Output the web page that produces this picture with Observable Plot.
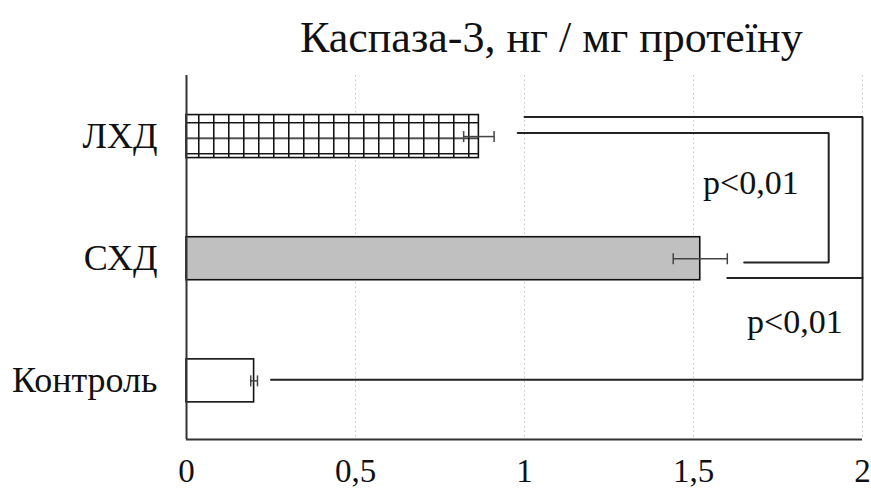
<!DOCTYPE html>
<html>
<head>
<meta charset="utf-8">
<script src="https://cdn.jsdelivr.net/npm/d3@7"></script>
<script src="https://cdn.jsdelivr.net/npm/@observablehq/plot@0.6"></script>
<style>
  body { margin: 0; background: #fff; }
  #chart { position: relative; width: 871px; height: 498px; font-family: "Liberation Serif", "DejaVu Serif", serif; color: #111; }
  #title { position: absolute; left: 300px; top: 16px; font-family: "Liberation Serif", "DejaVu Serif", serif; font-size: 44px; line-height: 1; white-space: nowrap; }
  #plot { position: absolute; left: 0; top: 75px; }
</style>
</head>
<body>
<div id="chart">
  <div id="title">Каспаза-3, нг / мг протеїну</div>
  <div id="plot"></div>
</div>
<script>
// Caspase-3 level per group (mean ± error), rows listed top to bottom
const groups = ["ЛХД", "СХД", "Контроль"];
const means = [0.865, 1.52, 0.20];
const errors = [0.045, 0.08, 0.01];

// Value axis ticks, written with a decimal comma
const xTicks = [0, 0.5, 1, 1.5, 2];
const xTickLabels = ["0", "0,5", "1", "1,5", "2"];

// Significance brackets: x in value units, y in row units (0 = first row)
const bracketIds = ["ЛХД–Контроль", "ЛХД–СХД", "СХД–Контроль"];
const bracketX = [[1.0, 2.0, 2.0, 0.25], [0.98, 1.90, 1.90, 1.65], [1.60, 2.0]];
const bracketY = [[-0.16, -0.16, 1.99, 1.99], [-0.03, -0.03, 1.03, 1.03], [1.157, 1.157]];

// p-value annotations
const pTexts = ["p<0,01", "p<0,01"];
const pX = [1.67, 1.80];
const pY = [0.38, 1.52];

const serif = "\"Liberation Serif\", \"DejaVu Serif\", serif";
const fills = { "ЛХД": "url(#grid-hatch)", "СХД": "#c0c0c0", "Контроль": "#ffffff" };

const rows = groups.map((g, i) => ({ group: g, row: i, mean: means[i], err: errors[i] }));
const bracketPoints = bracketIds.flatMap((id, k) =>
  bracketX[k].map((x, j) => ({ id, x, y: bracketY[k][j] })));
const pLabels = pTexts.map((t, i) => ({ text: t, x: pX[i], y: pY[i] }));

const half = 0.176;   // half bar thickness, row units
const cap = 0.045;    // half error-cap height, row units
const yDomain = [2.48, -0.5];

const caps = rows.flatMap(d => [d.mean - d.err, d.mean + d.err].map(x => ({ x, row: d.row })));

const svg = Plot.plot({
  width: 871,
  height: 423,
  marginLeft: 186,
  marginRight: 9,
  marginTop: 0,
  marginBottom: 59,
  style: { fontFamily: serif, color: "#111", background: "transparent" },
  x: { domain: [0, 2] },
  y: { domain: yDomain },
  color: { type: "identity" },
  marks: [
    Plot.gridX({ ticks: [0.5, 1, 1.5, 2], stroke: "#c4c4c4", strokeOpacity: 1, strokeDasharray: "1.5,3" }),
    Plot.rectX(rows, {
      x1: 0, x2: "mean",
      y1: d => d.row - half, y2: d => d.row + half,
      fill: d => fills[d.group],
      stroke: "#111", strokeWidth: 1.6
    }),
    Plot.link(rows, {
      x1: d => d.mean - d.err, x2: d => d.mean + d.err,
      y1: "row", y2: "row",
      stroke: "#444", strokeWidth: 1.5
    }),
    Plot.link(caps, {
      x1: "x", x2: "x",
      y1: d => d.row - cap, y2: d => d.row + cap,
      stroke: "#444", strokeWidth: 1.5
    }),
    Plot.line(bracketPoints, { x: "x", y: "y", z: "id", stroke: "#222", strokeWidth: 2, strokeLinejoin: "miter" }),
    Plot.text(pLabels, { x: "x", y: "y", text: "text", fontSize: 34, fontFamily: serif, fill: "#111" }),
    Plot.ruleX([0], { stroke: "#333", strokeWidth: 2 }),
    Plot.ruleY([yDomain[0]], { stroke: "#333", strokeWidth: 2 }),
    Plot.axisX({
      ticks: xTicks,
      tickFormat: d => xTickLabels[xTicks.indexOf(d)],
      tickSize: 0, tickPadding: 19, fontSize: 33, fontFamily: serif, label: null
    }),
    Plot.axisY({
      ticks: groups.map((g, i) => i),
      tickFormat: i => groups[i],
      tickSize: 0, tickPadding: 29, fontSize: 36, fontFamily: serif, label: null
    })
  ]
});

// Square-grid hatching used by the first bar
const defs = d3.select(svg).insert("defs", ":first-child");
const pat = defs.append("pattern")
  .attr("id", "grid-hatch")
  .attr("patternUnits", "userSpaceOnUse")
  .attr("x", 3).attr("y", 0.5)
  .attr("width", 15).attr("height", 15.5);
pat.append("rect").attr("width", 15).attr("height", 15.5).attr("fill", "#fff");
pat.append("path")
  .attr("d", "M0.75,0V15.5M0,0.75H15")
  .attr("stroke", "#111").attr("stroke-width", 1.6).attr("fill", "none");

document.getElementById("plot").appendChild(svg);
</script>
</body>
</html>
